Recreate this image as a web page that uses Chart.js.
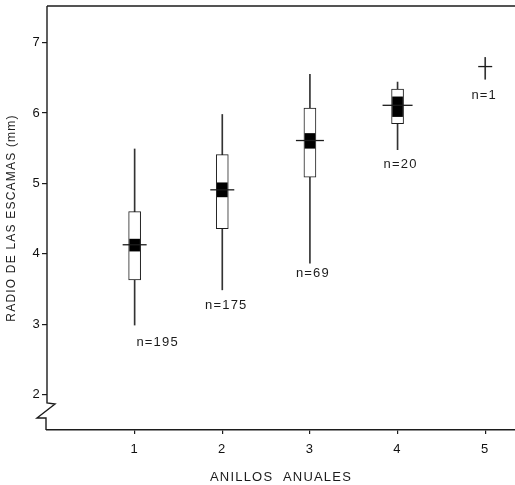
<!DOCTYPE html>
<html>
<head>
<meta charset="utf-8">
<script src="https://cdn.jsdelivr.net/npm/chart.js@4.4.1/dist/chart.umd.min.js"></script>
<style>
  body { margin: 0; background: #fff; }
  #chart { display: block; }
</style>
</head>
<body>
<canvas id="chart" width="515" height="485"></canvas>
<script>
// Values (scale radius in mm per number of annual rings)
const years = [1, 2, 3, 4, 5];
const whiskerLow = [2.99, 3.49, 3.87, 5.48, 6.48];
const whiskerHigh = [5.49, 5.98, 6.55, 6.44, 6.79];
const boxLow = [3.63, 4.36, 5.09, 5.85, null];
const boxHigh = [4.6, 5.41, 6.07, 6.34, null];
const ciLow = [4.04, 4.81, 5.5, 5.95, null];
const ciHigh = [4.21, 5.01, 5.71, 6.23, null];
const means = [4.13, 4.91, 5.61, 6.11, 6.66];
const nLabels = ["n=195", "n=175", "n=69", "n=20", "n=1"];
const xTicks = [1, 2, 3, 4, 5];
const yTicks = [2, 3, 4, 5, 6, 7];

// pixel offsets of the n= labels from the lower end of each whisker
const labelOffsets = [[23, 17], [4, 16], [3, 10], [3, 15], [-1, 16]];
const meanWidths = [12, 12, 14, 15, 7];

const ink = "#1c1c1c";

function ranges(lo, hi) {
  return years
    .map((x, i) => (lo[i] == null ? null : { x: x, y: [lo[i], hi[i]] }))
    .filter((d) => d !== null);
}

// Axis line with the break near the origin, plus the top frame line
const axisFrame = {
  id: "axisFrame",
  beforeDraw(chart) {
    chart.ctx.letterSpacing = "1.2px";
  },
  afterDraw(chart) {
    const { ctx, chartArea } = chart;
    const { left, top, right, bottom } = chartArea;
    ctx.save();
    ctx.strokeStyle = ink;
    ctx.lineWidth = 1.4;
    ctx.beginPath();
    ctx.moveTo(left, top);
    ctx.lineTo(right, top);
    ctx.moveTo(left, top);
    ctx.lineTo(left, bottom - 27);
    ctx.lineTo(left + 8, bottom - 26);
    ctx.lineTo(left - 10, bottom - 12);
    ctx.lineTo(left - 1, bottom - 12);
    ctx.lineTo(left - 1, bottom);
    ctx.stroke();
    ctx.restore();
  },
};

// Sample size labels under each group
const sampleLabels = {
  id: "sampleLabels",
  afterDatasetsDraw(chart) {
    const { ctx, scales } = chart;
    ctx.save();
    ctx.fillStyle = ink;
    ctx.font = "13px 'Liberation Sans', Arial, sans-serif";
    ctx.letterSpacing = "1.2px";
    ctx.textAlign = "center";
    ctx.textBaseline = "middle";
    nLabels.forEach((txt, i) => {
      const px = scales.x.getPixelForValue(years[i]) + labelOffsets[i][0];
      const py = scales.y.getPixelForValue(whiskerLow[i]) + labelOffsets[i][1];
      ctx.fillText(txt, px, py);
    });
    ctx.restore();
  },
};

const ctx = document.getElementById("chart").getContext("2d");

new Chart(ctx, {
  type: "bar",
  data: {
    datasets: [
      {
        type: "scatter",
        label: "Media",
        data: years.map((x, i) => ({ x: x, y: means[i] })),
        pointStyle: "line",
        pointRadius: meanWidths,
        borderColor: ink,
        borderWidth: 1.3,
        clip: false,
        order: 1,
      },
      {
        label: "Intervalo",
        data: ranges(ciLow, ciHigh),
        backgroundColor: "#000",
        barThickness: 10,
        grouped: false,
        order: 2,
      },
      {
        label: "Caja",
        data: ranges(boxLow, boxHigh),
        backgroundColor: "#fff",
        borderColor: ink,
        borderWidth: 1,
        borderSkipped: false,
        barThickness: 12,
        grouped: false,
        order: 3,
      },
      {
        label: "Rango",
        data: ranges(whiskerLow, whiskerHigh),
        backgroundColor: "#333",
        barThickness: 1,
        grouped: false,
        order: 4,
      },
    ],
  },
  options: {
    responsive: false,
    animation: false,
    layout: {
      autoPadding: false,
      padding: { top: 6, right: 0, left: 0, bottom: 0 },
    },
    plugins: {
      legend: { display: false },
      tooltip: { enabled: false },
    },
    scales: {
      x: {
        type: "linear",
        min: 0,
        max: 5.34,
        offset: false,
        afterBuildTicks: (axis) => {
          axis.ticks = xTicks.map((v) => ({ value: v }));
        },
        afterFit: (axis) => {
          axis.height = 55;
          axis.paddingLeft = 0;
          axis.paddingRight = 0;
        },
        grid: {
          offset: false,
          drawOnChartArea: false,
          drawTicks: true,
          tickLength: 4,
          color: ink,
          lineWidth: 1.2,
        },
        border: { display: true, color: ink, width: 1.4 },
        ticks: {
          color: "#111",
          padding: 8,
          maxRotation: 0,
          font: { family: "'Liberation Sans', Arial, sans-serif", size: 13 },
          callback: (v) => String(v),
        },
        title: {
          display: true,
          text: "ANILLOS  ANUALES",
          color: ink,
          padding: 0,
          font: { family: "'Liberation Sans', Arial, sans-serif", size: 13 },
        },
      },
      y: {
        type: "linear",
        min: 1.5,
        max: 7.52,
        afterBuildTicks: (axis) => {
          axis.ticks = yTicks.map((v) => ({ value: v }));
        },
        afterFit: (axis) => {
          axis.width = 47;
          axis.paddingTop = 0;
          axis.paddingBottom = 0;
        },
        grid: {
          drawOnChartArea: false,
          drawTicks: true,
          tickLength: 5,
          color: ink,
          lineWidth: 1.2,
        },
        border: { display: false },
        ticks: {
          color: "#111",
          padding: 1,
          font: { family: "'Liberation Sans', Arial, sans-serif", size: 13 },
          callback: (v) => String(v),
        },
        title: {
          display: true,
          text: "RADIO DE LAS ESCAMAS (mm)",
          color: ink,
          padding: { top: 4, bottom: 0 },
          font: { family: "'Liberation Sans', Arial, sans-serif", size: 12 },
        },
      },
    },
  },
  plugins: [axisFrame, sampleLabels],
});
</script>
</body>
</html>
